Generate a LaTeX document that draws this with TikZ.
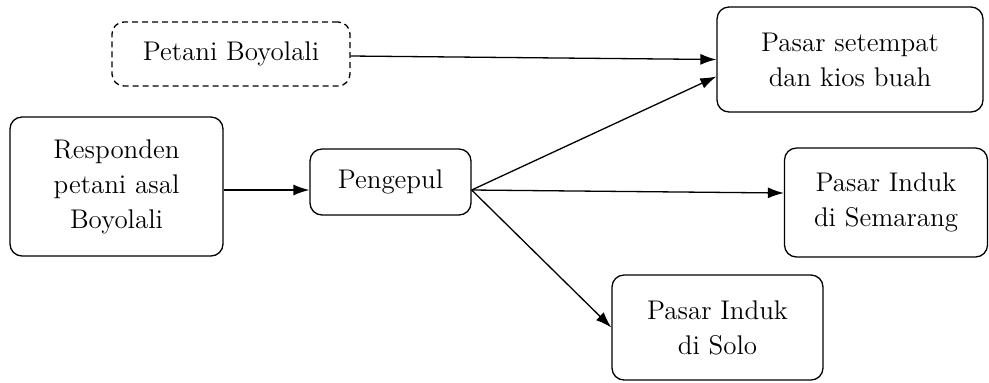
\documentclass[tikz,border=0pt]{standalone}
\usetikzlibrary{arrows.meta}
\begin{document}
\begin{tikzpicture}[x=0.5pt,y=-0.5pt,
  box/.style={draw, rounded corners=6pt, line width=0.65pt, align=center, inner sep=0pt,
    font=\fontsize{13.5}{17.5}\selectfont},
  dbox/.style={box, dash pattern=on 3pt off 2pt},
  arr/.style={line width=0.65pt, -{Latex[length=8pt,width=5.5pt]}}]
\useasboundingbox (0,0) rectangle (989,382);
\node[dbox, minimum width=119pt, minimum height=32pt] (petani) at (231,54) {Petani Boyolali};
\node[box, minimum width=133pt, minimum height=52.5pt] (pasar) at (850,59.5) {Pasar setempat\\dan kios buah};
\node[box, minimum width=106.5pt, minimum height=69.5pt] (resp) at (116.5,186.5) {Responden\\petani asal\\Boyolali};
\node[box, minimum width=80.5pt, minimum height=33pt] (peng) at (390.5,182) {Pengepul};
\node[box, minimum width=101.5pt, minimum height=54.5pt] (sem) at (886,202.5) {Pasar Induk\\di Semarang};
\node[box, minimum width=105.5pt, minimum height=52.5pt] (solo) at (717.5,327.5) {Pasar Induk\\di Solo};
\coordinate (po) at ([yshift=-4pt]peng.east);
\draw[arr] ([yshift=-1pt]petani.east) -- (pasar.west);
\draw[arr] ([yshift=-1.75pt]resp.east) -- ([yshift=-4pt]peng.west);
\draw[arr] (po) -- ([yshift=-8.5pt]pasar.west);
\draw[arr] (po) -- ([yshift=4.75pt]sem.west);
\draw[arr] (po) -- (solo.west);
\end{tikzpicture}
\end{document}
